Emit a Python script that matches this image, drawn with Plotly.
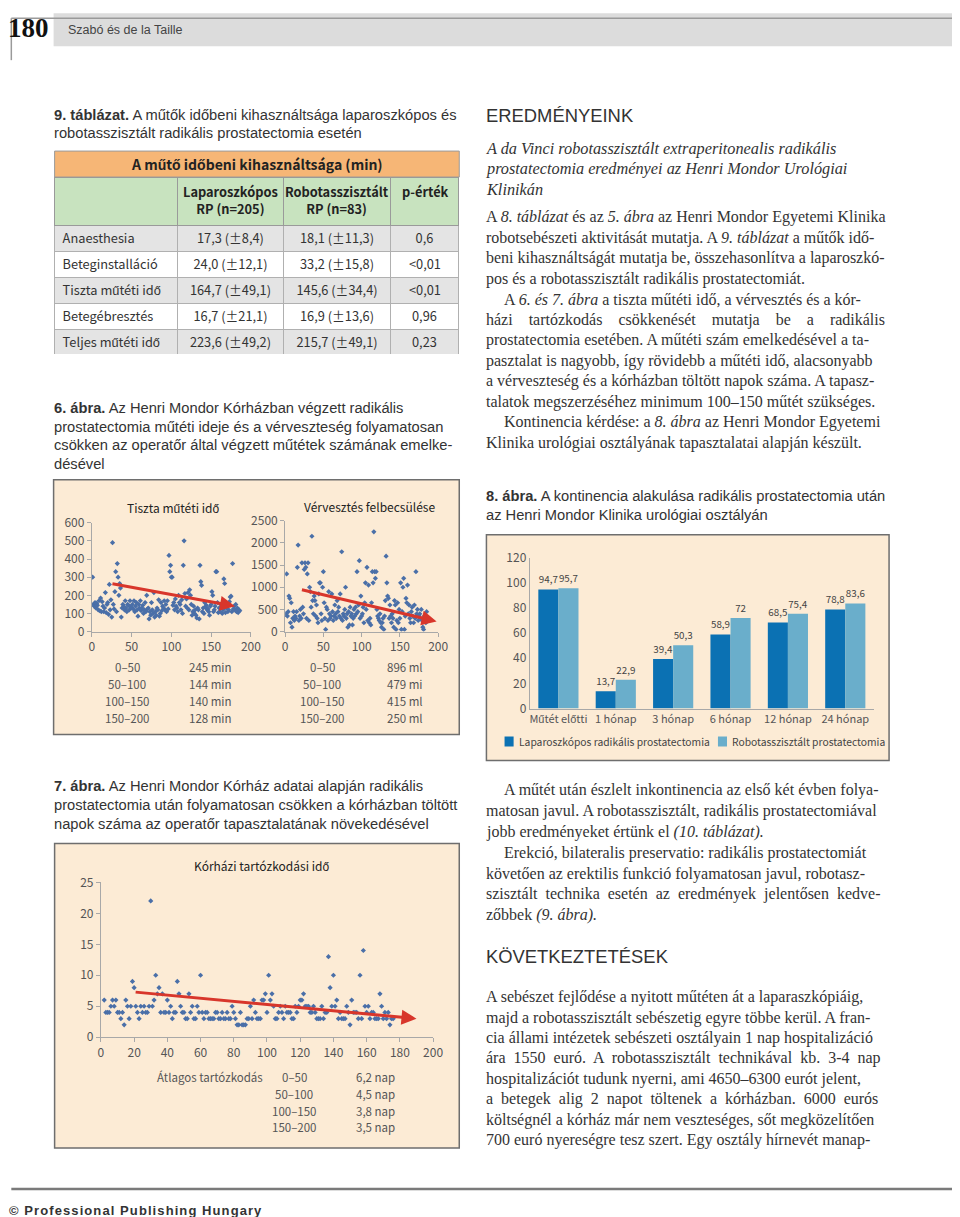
import plotly.graph_objects as go

# Positions below are page pixels of the 960x1217 reference.  The page places the
# figure 16px in from the corner and the photo is slightly shrunk, so page pixels
# are converted to figure paper coordinates here.
FW, FH = 960, 1217
OFF = 16
SX, SY = 0.98, 0.987


def px(x):
    return (x / SX - OFF) / FW


def py(y):
    return 1 - (y / SY - OFF) / FH


SANS = "Liberation Sans, Arial, sans-serif"
SERIF = "Liberation Serif, Times New Roman, serif"
COND = "Noto Sans CJK SC, Liberation Sans, sans-serif"
PEACH = "#fcebd5"
DOT = "#4a6fa8"
RED = "#d8362b"
AXC = "#a8a8a8"
TICKC = "#555555"
TXT = "#333333"

# ---------------- data ----------------
table_group = "A műtő időbeni kihasználtsága (min)"
table_head = ["", "Laparoszkópos<br>RP (n=205)", "Robotasszisztált<br>RP (n=83)", "p-érték"]
table_rows = ["Anaesthesia", "Beteginstalláció", "Tiszta műtéti idő", "Betegébresztés", "Teljes műtéti idő"]
table_lap = ["17,3 (±8,4)", "24,0 (±12,1)", "164,7 (±49,1)", "16,7 (±21,1)", "223,6 (±49,2)"]
table_rob = ["18,1 (±11,3)", "33,2 (±15,8)", "145,6 (±34,4)", "16,9 (±13,6)", "215,7 (±49,1)"]
table_p = ["0,6", "<0,01", "<0,01", "0,96", "0,23"]

# Fig 6 left: pure operating time (min) per consecutive case
time_min = [
    300, 150, 140, 160, 130, 155, 145, 120, 170, 115,
    185, 110, 165, 140, 110, 130, 215, 105, 150, 160,
    95, 260, 120, 175, 80, 490, 150, 125, 220, 330,
    110, 375, 300, 200, 265, 240, 80, 130, 150, 140,
    120, 170, 130, 110, 150, 145, 120, 170, 135, 130,
    150, 125, 170, 110, 140, 160, 120, 85, 150, 130,
    170, 115, 130, 145, 100, 120, 160, 110, 200, 125,
    130, 70, 110, 90, 160, 120, 100, 215, 80, 110,
    90, 130, 120, 175, 85, 100, 160, 115, 140, 130,
    170, 120, 150, 110, 170, 125, 420, 330, 365, 300,
    300, 145, 160, 120, 180, 140, 130, 110, 200, 160,
    150, 120, 175, 100, 365, 500, 210, 140, 180, 130,
    215, 120, 230, 200, 150, 90, 110, 140, 100, 120,
    90, 75, 130, 120, 70, 365, 275, 255, 110, 130,
    100, 160, 135, 145, 120, 125, 110, 90, 140, 150,
    220, 200, 110, 120, 140, 330, 330, 160, 105, 130,
    110, 150, 140, 100, 120, 290, 265, 105, 130, 150,
    110, 120, 165, 190, 195, 110, 375, 125, 140, 120,
    150, 110, 130, 105, 120, 115,
]

# Fig 6 right: estimated blood loss (ml) per consecutive case
blood_ml = [
    400, 1300, 350, 450, 800, 750, 200, 650, 100, 300,
    450, 250, 350, 300, 450, 1450, 1950, 250, 350, 500,
    300, 1550, 550, 400, 1400, 1550, 1450, 300, 1300, 1550,
    250, 1000, 900, 550, 2150, 700, 400, 800, 700, 350,
    600, 300, 200, 850, 1100, 1100, 400, 250, 1000, 1350,
    650, 300, 50, 550, 500, 250, 900, 400, 300, 350,
    850, 450, 250, 350, 600, 400, 300, 700, 450, 550,
    350, 850, 300, 1800, 250, 400, 350, 500, 1000, 300,
    400, 100, 450, 150, 550, 350, 400, 150, 300, 500,
    350, 550, 400, 1350, 450, 600, 1600, 300, 800, 350,
    400, 550, 200, 650, 1100, 500, 1450, 250, 1050, 200,
    300, 150, 650, 1350, 1100, 2250, 1350, 1200, 1350, 500,
    350, 300, 250, 400, 200, 100, 200, 300, 50, 350,
    700, 1700, 1100, 800, 750, 300, 600, 350, 200, 400,
    300, 100, 700, 600, 50, 250, 650, 200, 500, 300,
    1100, 50, 450, 1000, 1200, 50, 350, 750, 650, 1050,
    400, 600, 300, 200, 450, 550, 350, 200, 600, 300,
    1350, 400, 500, 250, 350, 400, 300, 500, 250, 100,
    50, 350, 300, 200, 450, 300,
]

# Fig 7: hospital stay (days) per consecutive case (starting with case 2)
stay_days = [
    6, 4, 4, 4, 5, 6, 5, 6, 4, 4,
    3, 4, 2, 6, 5, 3, 5, 9, 8, 5,
    4, 3, 5, 4, 5, 4, 4, 5, 22, 5,
    6, 10, 7, 8, 4, 7, 4, 4, 6, 4,
    5, 3, 4, 4, 9, 7, 5, 4, 4, 3,
    3, 7, 4, 5, 3, 3, 5, 4, 10, 4,
    3, 4, 4, 3, 3, 3, 3, 4, 4, 3,
    3, 4, 3, 3, 4, 3, 3, 5, 4, 3,
    2, 2, 4, 2, 2, 2, 3, 3, 5, 3,
    6, 4, 3, 3, 3, 6, 6, 7, 4, 10,
    6, 7, 5, 3, 3, 4, 5, 4, 3, 5,
    4, 4, 4, 3, 3, 5, 4, 5, 6, 6,
    7, 5, 5, 5, 4, 4, 5, 4, 3, 3,
    3, 5, 3, 4, 4, 13, 8, 5, 10, 5,
    6, 3, 4, 3, 3, 3, 5, 4, 2, 6,
    4, 4, 4, 3, 10, 3, 14, 5, 4, 5,
    3, 4, 4, 3, 3, 3, 7, 5, 3, 4,
    3, 4, 2, 3, 3,
]

trend_time = ([24, 180], [265, 140])
trend_blood = ([20, 198], [950, 230])
trend_stay = ([20, 190], [7.3, 3.0])

ranges = ["0–50", "50–100", "100–150", "150–200"]
time_means = ["245 min", "144 min", "140 min", "128 min"]
blood_means = ["896 ml", "479 mi", "415 ml", "250 ml"]
stay_means = ["6,2 nap", "4,5 nap", "3,8 nap", "3,5 nap"]

months = ["Műtét előtti", "1 hónap", "3 hónap", "6 hónap", "12 hónap", "24 hónap"]
lap = [94.7, 13.7, 39.4, 58.9, 68.5, 78.8]
rob = [95.7, 22.9, 50.3, 72, 75.4, 83.6]
series_names = ["Laparoszkópos radikális prostatectomia", "Robotasszisztált prostatectomia"]


def hu(v):
    return ("%g" % v).replace(".", ",")


# ---------------- figure ----------------
fig = go.Figure()
shapes = []
ann = []


def T(x, y, s, size=14, family=SANS, color="#222222", anchor="left"):
    ann.append(dict(x=px(x), y=py(y), xref="paper", yref="paper", text=s, showarrow=False,
                    xanchor=anchor, yanchor="middle", align=anchor,
                    font=dict(family=family, size=size, color=color)))


def rect(x0, y0, x1, y1, fill, line="#6e6e6e", lw=1.5, layer="below"):
    shapes.append(dict(type="rect", xref="paper", yref="paper", x0=px(x0), x1=px(x1),
                       y0=py(y0), y1=py(y1), fillcolor=fill, line=dict(color=line, width=lw), layer=layer))


def hline(x0, x1, y, color, w):
    shapes.append(dict(type="line", xref="paper", yref="paper", x0=px(x0), x1=px(x1),
                       y0=py(y), y1=py(y), line=dict(color=color, width=w)))


def vline(x, y0, y1, color, w):
    shapes.append(dict(type="line", xref="paper", yref="paper", x0=px(x), x1=px(x),
                       y0=py(y0), y1=py(y1), line=dict(color=color, width=w)))


RIGHT = 956

# header
hline(16, RIGHT, 16, "#9a9a9a", 1.5)
vline(16, 16, 58, "#9a9a9a", 1.5)
rect(58, 11, RIGHT, 44, "#dcdcdc", line="rgba(0,0,0,0)", lw=0)
T(11, 26, "<b>180</b>", size=27, family=SERIF, color="#111111")
T(70, 28, "Szabó és de la Taille", size=12.5, color="#444444")

CAP = 14.7
# table 9 caption
T(56, 113, "<b>9. táblázat.</b> A műtők időbeni kihasználtsága laparoszkópos és", size=CAP, color=TXT)
T(56, 131, "robotasszisztált radikális prostatectomia esetén", size=CAP, color=TXT)

# table
col_w = [122, 106, 106, 68]
col_edges = [59]
for w in col_w:
    col_edges.append(col_edges[-1] + w)
TAB_TOP, HEAD_H, ROW_H = 175, 48, 26
rect(59, 149, 461, 175, "#f6b676", line="#9a9a9a", lw=1, layer="above")
T(260, 162, "<b>%s</b>" % table_group, size=14, family=COND, color="#222222", anchor="center")
row_fill = ["#e4e4e4", "#ffffff", "#e4e4e4", "#ffffff", "#e4e4e4"]
# values holding "<" are set as overlaid labels (plotly tables enlarge such rows)
p_cells = ["" if "<" in v else v for v in table_p]
fig.add_trace(go.Table(
    domain=dict(x=[px(59), px(461)], y=[py(TAB_TOP + HEAD_H + ROW_H * len(table_rows)), py(TAB_TOP)]),
    columnwidth=col_w,
    header=dict(values=[""] * 4, fill_color="#c8e3bf",
                line=dict(color="#9a9a9a", width=1), height=HEAD_H),
    cells=dict(values=[table_rows, table_lap, table_rob, p_cells],
               fill_color=[row_fill] * 4, line=dict(color="#b0b0b0", width=1),
               align=["left", "center", "center", "center"], height=ROW_H,
               font=dict(family=COND, size=12.8, color="#333333")),
))
p_cx = (col_edges[3] + col_edges[4]) / 2
for i, v in enumerate(table_p):
    if "<" in v:
        T(p_cx, TAB_TOP + HEAD_H + ROW_H * (i + 0.5), v.replace("<", "&lt;"), size=12.8,
          family=COND, color="#333333", anchor="center")
for i, h in enumerate(table_head):
    if h:
        cx = (col_edges[i] + col_edges[i + 1]) / 2
        T(cx, 198 if "<br>" in h else 189, "<b>%s</b>" % h, size=12.8, family=COND,
          color="#222222", anchor="center")

# fig 6 caption
cap6 = ["<b>6. ábra.</b> Az Henri Mondor Kórházban végzett radikális",
        "prostatectomia műtéti ideje és a vérveszteség folyamatosan",
        "csökken az operatőr által végzett műtétek számának emelke-",
        "désével"]
for i, s in enumerate(cap6):
    T(56, 406 + i * 18.7, s, size=CAP, color=TXT)

# fig 6 box
rect(58, 478, 461, 733, PEACH)
T(177, 506, "Tiszta műtéti idő", size=12, family=COND, color="#222222", anchor="center")
T(372, 505, "Vérvesztés felbecsülése", size=12, family=COND, color="#222222", anchor="center")
for i in range(4):
    T(131, 665 + i * 17.2, ranges[i], size=11.5, family=COND, color=TICKC, anchor="center")
    T(214, 665 + i * 17.2, time_means[i], size=11.5, family=COND, color=TICKC, anchor="center")
    T(325, 665 + i * 17.2, ranges[i], size=11.5, family=COND, color=TICKC, anchor="center")
    T(407, 665 + i * 17.2, blood_means[i], size=11.5, family=COND, color=TICKC, anchor="center")

fig.add_trace(go.Scatter(x=list(range(1, len(time_min) + 1)), y=time_min, mode="markers",
                         marker=dict(symbol="diamond", size=4, color=DOT), showlegend=False,
                         xaxis="x", yaxis="y"))
fig.add_trace(go.Scatter(x=list(range(1, len(blood_ml) + 1)), y=blood_ml, mode="markers",
                         marker=dict(symbol="diamond", size=4, color=DOT), showlegend=False,
                         xaxis="x2", yaxis="y2"))

# fig 7 caption
cap7 = ["<b>7. ábra.</b> Az Henri Mondor Kórház adatai alapján radikális",
        "prostatectomia után folyamatosan csökken a kórházban töltött",
        "napok száma az operatőr tapasztalatának növekedésével"]
for i, s in enumerate(cap7):
    T(56, 785 + i * 19, s, size=CAP, color=TXT)

rect(59, 842, 461, 1147, PEACH)
T(265, 864, "Kórházi tartózkodási idő", size=12, family=COND, color="#222222", anchor="center")
T(213, 1076, "Átlagos tartózkodás", size=11.5, family=COND, color=TICKC, anchor="center")
for i in range(4):
    T(297, 1076 + i * 16.7, ranges[i], size=11.5, family=COND, color=TICKC, anchor="center")
    T(378, 1076 + i * 16.7, stay_means[i], size=11.5, family=COND, color=TICKC, anchor="center")

fig.add_trace(go.Scatter(x=list(range(2, len(stay_days) + 2)), y=stay_days, mode="markers",
                         marker=dict(symbol="diamond", size=4, color=DOT), showlegend=False,
                         xaxis="x3", yaxis="y3"))

# arrows
for (tx, ty), xr, yr in [(trend_time, "x", "y"), (trend_blood, "x2", "y2"), (trend_stay, "x3", "y3")]:
    ann.append(dict(x=tx[1], y=ty[1], ax=tx[0], ay=ty[0], xref=xr, yref=yr, axref=xr, ayref=yr,
                    text="", showarrow=True, arrowhead=2, arrowsize=1, arrowwidth=3, arrowcolor=RED))

# right column
HEAD = 18.4
T(486, 113, "EREDMÉNYEINK", size=HEAD, color=TXT)
sub = ["<i>A da Vinci robotasszisztált extraperitonealis radikális</i>",
       "<i>prostatectomia eredményei az Henri Mondor Urológiai</i>",
       "<i>Klinikán</i>"]
for i, s in enumerate(sub):
    T(486, 146 + i * 20.5, s, size=16.3, family=SERIF, color=TXT)

BODY = 16
body1 = [(0, "A <i>8. táblázat</i> és az <i>5. ábra</i> az Henri Mondor Egyetemi Klinika"),
         (0, "robotsebészeti aktivitását mutatja. A <i>9. táblázat</i> a műtők idő-"),
         (0, "beni kihasználtságát mutatja be, összehasonlítva a laparoszkó-"),
         (0, "pos és a robotasszisztált radikális prostatectomiát."),
         (1, "A <i>6. és 7. ábra</i> a tiszta műtéti idő, a vérvesztés és a kór-"),
         (0, "házi    tartózkodás    csökkenését    mutatja    be    a    radikális"),
         (0, "prostatectomia esetében. A műtéti szám emelkedésével a ta-"),
         (0, "pasztalat is nagyobb, így rövidebb a műtéti idő, alacsonyabb"),
         (0, "a vérveszteség és a kórházban töltött napok száma. A tapasz-"),
         (0, "talatok megszerzéséhez minimum 100–150 műtét szükséges."),
         (1, "Kontinencia kérdése: a <i>8. ábra</i> az Henri Mondor Egyetemi"),
         (0, "Klinika urológiai osztályának tapasztalatai alapján készült.")]
for i, (ind, s) in enumerate(body1):
    T(486 + ind * 17, 215 + i * 20.55, s, size=BODY, family=SERIF, color=TXT)

T(486, 494, "<b>8. ábra.</b> A kontinencia alakulása radikális prostatectomia után", size=CAP, color=TXT)
T(486, 513, "az Henri Mondor Klinika urológiai osztályán", size=CAP, color=TXT)

rect(488, 533, 888, 759, PEACH)
bar_colors = ["#0b71b3", "#6aaecb"]
for name, vals, col in zip(series_names, [lap, rob], bar_colors):
    fig.add_trace(go.Bar(x=months, y=vals, name=name, showlegend=False,
                         marker=dict(color=col, line=dict(width=0)),
                         text=[hu(v) for v in vals], textposition="outside", cliponaxis=False,
                         constraintext="none",
                         textfont=dict(family=COND, size=9.8, color="#444444"),
                         xaxis="x4", yaxis="y4"))
# legend (drawn as swatch + label)
leg_x = [(506, 518), (718, 730)]
for (sx, tx), name, col in zip(leg_x, series_names, bar_colors):
    rect(sx, 735, sx + 9, 745, col, line="rgba(0,0,0,0)", lw=0, layer="above")
    T(tx, 740, name, size=10.3, family=COND, color="#444444")

body2 = [(1, "A műtét után észlelt inkontinencia az első két évben folya-"),
         (0, "matosan javul. A robotasszisztált, radikális prostatectomiával"),
         (0, "jobb eredményeket értünk el <i>(10. táblázat).</i>"),
         (1, "Erekció, bilateralis preservatio: radikális prostatectomiát"),
         (0, "követően az erektilis funkció folyamatosan javul, robotasz-"),
         (0, "szisztált  technika  esetén  az  eredmények  jelentősen  kedve-"),
         (0, "zőbbek <i>(9. ábra).</i>")]
for i, (ind, s) in enumerate(body2):
    T(486 + ind * 17, 789 + i * 20.8, s, size=BODY, family=SERIF, color=TXT)

T(486, 955, "KÖVETKEZTETÉSEK", size=HEAD, color=TXT)
body3 = ["A sebészet fejlődése a nyitott műtéten át a laparaszkópiáig,",
         "majd a robotasszisztált sebészetig egyre többe kerül. A fran-",
         "cia állami intézetek sebészeti osztályain 1 nap hospitalizáció",
         "ára  1550  euró.  A  robotasszisztált  technikával  kb.  3-4  nap",
         "hospitalizációt tudunk nyerni, ami 4650–6300 eurót jelent,",
         "a  betegek  alig  2  napot  töltenek  a  kórházban.  6000  eurós",
         "költségnél a kórház már nem veszteséges, sőt megközelítően",
         "700 euró nyereségre tesz szert. Egy osztály hírnevét manap-"]
for i, s in enumerate(body3):
    T(486, 996 + i * 20.4, s, size=BODY, family=SERIF, color=TXT)

# footer
hline(16, RIGHT, 1188, "#7a7a7a", 2.5)
footer = "© Professional Publishing Hungary"
T(12, 1209, "<b>%s</b>" % "\u200a".join(footer), size=13, color=TXT)


# axes
def sc_x(x0, x1, y, dt):
    return dict(domain=[px(x0), px(x1)], range=[0, 200], dtick=dt,
                showline=True, linecolor=AXC, linewidth=1, ticks="outside", ticklen=4,
                tickcolor=AXC, showgrid=False, zeroline=False, anchor=y,
                tickfont=dict(family=COND, size=12, color=TICKC))


def sc_y(y0, y1, rng, dt, x):
    return dict(domain=[py(y0), py(y1)], range=rng, dtick=dt, showline=True, linecolor=AXC,
                linewidth=1, ticks="outside", ticklen=4, tickcolor=AXC, showgrid=False,
                zeroline=False, anchor=x, tickfont=dict(family=COND, size=12, color=TICKC))


fig.update_layout(
    width=FW, height=FH, autosize=False,
    margin=dict(l=0, r=0, t=0, b=0),
    paper_bgcolor="white", plot_bgcolor="rgba(0,0,0,0)",
    shapes=shapes, annotations=ann,
    barmode="group", bargap=0.3, bargroupgap=0.0,
    xaxis=sc_x(96, 254, "y", 50),
    yaxis=sc_y(630, 521, [0, 600], 100, "x"),
    xaxis2=sc_x(288, 440, "y2", 50),
    yaxis2=sc_y(630, 519, [0, 2500], 500, "x2"),
    xaxis3=sc_x(105, 435, "y3", 20),
    yaxis3=sc_y(1036, 881, [0, 25], 5, "x3"),
    xaxis4=dict(domain=[px(531), px(873)], anchor="y4", type="category", showline=True,
                linecolor=AXC, linewidth=1, ticks="", showgrid=False, tickangle=0,
                tickfont=dict(family=COND, size=11, color=TICKC)),
    yaxis4=dict(domain=[py(707), py(556)], anchor="x4", range=[0, 120], dtick=20, showline=True,
                linecolor=AXC, linewidth=1, ticks="", showgrid=False, zeroline=False,
                tickfont=dict(family=COND, size=12, color=TICKC)),
    showlegend=False,
)

fig.write_html("out.html")
